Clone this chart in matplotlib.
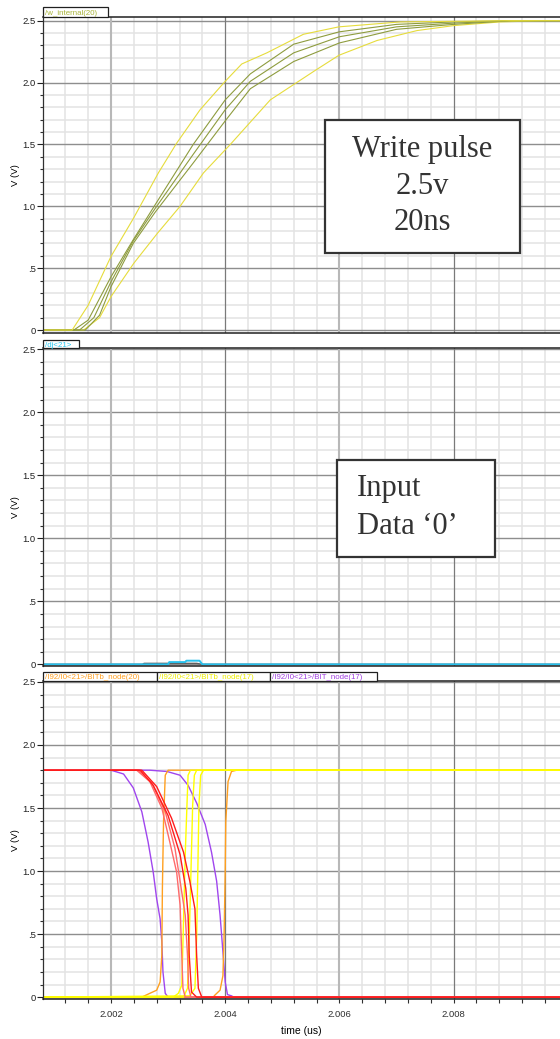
import matplotlib
matplotlib.use('Agg')
import matplotlib.pyplot as plt
from matplotlib.patches import Rectangle
from matplotlib.ticker import MultipleLocator, FixedLocator, FuncFormatter

# --- datos de la simulacion (tiempo en us, tension en V) ---

# panel 1: /w_internal(20)
t_w1 = [2.0008, 2.00132, 2.0016, 2.002, 2.00239, 2.00283, 2.00315, 2.00356, 2.004, 2.00429, 2.00473, 2.00537, 2.00599, 2.00707, 2.009, 2.0099]
v_w1 = [0, 0, 0.2, 0.595, 0.9, 1.27, 1.51, 1.78, 2.01, 2.15, 2.24, 2.39, 2.45, 2.49, 2.5, 2.5]
t_w2 = [2.0008, 2.00135, 2.0016, 2.002, 2.00239, 2.00277, 2.00344, 2.004, 2.00444, 2.0052, 2.006, 2.007, 2.008, 2.009, 2.0099]
v_w2 = [0, 0, 0.08, 0.43, 0.73, 1.01, 1.5, 1.86, 2.07, 2.31, 2.41, 2.47, 2.49, 2.5, 2.5]
t_w3 = [2.0008, 2.00145, 2.0017, 2.002, 2.00239, 2.00277, 2.00344, 2.004, 2.00444, 2.0052, 2.006, 2.007, 2.008, 2.009, 2.0099]
v_w3 = [0, 0, 0.1, 0.39, 0.72, 0.98, 1.42, 1.78, 2.01, 2.24, 2.37, 2.45, 2.48, 2.5, 2.5]
t_w4 = [2.0008, 2.00155, 2.0018, 2.002, 2.00239, 2.00277, 2.00344, 2.004, 2.00444, 2.0052, 2.006, 2.007, 2.008, 2.009, 2.0099]
v_w4 = [0, 0, 0.12, 0.35, 0.70, 0.95, 1.35, 1.69, 1.95, 2.17, 2.32, 2.43, 2.47, 2.5, 2.5]
t_w5 = [2.0008, 2.00152, 2.0018, 2.002, 2.0024, 2.00281, 2.00321, 2.00362, 2.00409, 2.00479, 2.00555, 2.00599, 2.00666, 2.00736, 2.008, 2.00882, 2.0096, 2.0099]
v_w5 = [0, 0, 0.1, 0.27, 0.54, 0.78, 1.0, 1.27, 1.5, 1.86, 2.09, 2.22, 2.34, 2.42, 2.46, 2.49, 2.5, 2.5]

# panel 2: /dj<21>
t_dj = [2.0008, 2.003, 2.00302, 2.0033, 2.00332, 2.00355, 2.0036, 2.0099]
v_dj = [0, 0, 0.018, 0.018, 0.029, 0.029, 0, 0]
t_djb = [2.0008, 2.00255, 2.00258, 2.0035, 2.0036, 2.0099]
v_djb = [0, 0, 0.008, 0.008, 0, 0]

# panel 3: nodos BIT / BITb
t_p1 = [2.0008, 2.002, 2.00222, 2.00239, 2.00254, 2.00265, 2.00274, 2.0028, 2.00286, 2.00289, 2.00291, 2.00295, 2.003, 2.0099]
v_p1 = [1.8, 1.8, 1.77, 1.66, 1.47, 1.23, 0.99, 0.78, 0.62, 0.44, 0.2, 0.03, 0, 0]
t_p2 = [2.0008, 2.00268, 2.00298, 2.00321, 2.00335, 2.0035, 2.00365, 2.00376, 2.00385, 2.00391, 2.00396, 2.004, 2.00404, 2.00411, 2.00415, 2.0099]
v_p2 = [1.8, 1.8, 1.79, 1.76, 1.68, 1.54, 1.37, 1.15, 0.92, 0.65, 0.36, 0.12, 0.02, 0.01, 0, 0]

t_r1 = [2.0008, 2.00245, 2.00268, 2.00289, 2.00303, 2.00315, 2.00321, 2.00324, 2.00326, 2.0033, 2.0099]
v_r1 = [1.8, 1.8, 1.71, 1.50, 1.23, 0.99, 0.73, 0.33, 0.07, 0, 0]
t_r2 = [2.0008, 2.00248, 2.00271, 2.00295, 2.00312, 2.00321, 2.0033, 2.00334, 2.00336, 2.0034, 2.0099]
v_r2 = [1.8, 1.8, 1.70, 1.47, 1.18, 0.92, 0.65, 0.33, 0.07, 0, 0]
t_r3 = [2.0008, 2.00251, 2.00274, 2.003, 2.00321, 2.00331, 2.00335, 2.00337, 2.00341, 2.0035, 2.0099]
v_r3 = [1.8, 1.8, 1.68, 1.44, 1.13, 0.86, 0.65, 0.33, 0.04, 0, 0]
t_r4 = [2.0008, 2.00254, 2.0028, 2.00306, 2.00327, 2.00338, 2.00347, 2.0035, 2.00353, 2.00359, 2.0099]
v_r4 = [1.8, 1.8, 1.67, 1.42, 1.15, 0.92, 0.70, 0.33, 0.07, 0, 0]

t_o1 = [2.0008, 2.00254, 2.00268, 2.0028, 2.00286, 2.00289, 2.0029, 2.00292, 2.00295, 2.003, 2.0099]
v_o1 = [0, 0, 0.03, 0.055, 0.12, 0.33, 0.86, 1.39, 1.76, 1.8, 1.8]
t_o2 = [2.0008, 2.00379, 2.00382, 2.00391, 2.00396, 2.00398, 2.004, 2.00401, 2.00405, 2.00411, 2.0042, 2.0099]
v_o2 = [0, 0, 0.016, 0.055, 0.17, 0.47, 0.99, 1.39, 1.71, 1.79, 1.8, 1.8]

t_y1 = [2.0008, 2.00309, 2.00318, 2.00324, 2.00327, 2.0033, 2.00333, 2.00335, 2.00339, 2.0099]
v_y1 = [0, 0, 0.03, 0.095, 0.6, 1.13, 1.52, 1.76, 1.8, 1.8]
t_y2 = [2.0008, 2.00327, 2.00334, 2.00337, 2.0034, 2.00343, 2.00346, 2.0035, 2.0099]
v_y2 = [0, 0, 0.07, 0.47, 0.99, 1.52, 1.76, 1.8, 1.8]
t_y3 = [2.0008, 2.00338, 2.00347, 2.0035, 2.00352, 2.00354, 2.00357, 2.00362, 2.0099]
v_y3 = [0, 0.01, 0.07, 0.47, 0.99, 1.52, 1.76, 1.8, 1.8]

x_ticks = [2.002, 2.004, 2.006, 2.008]
y_ticks = [0, 0.5, 1.0, 1.5, 2.0, 2.5]

W, H = 560, 1039
X0, X1 = 2.000804, 2.009863
LEFT = 42.7

plt.rcParams['font.family'] = ['Liberation Sans', 'DejaVu Sans']

fig = plt.figure(figsize=(W / 100, H / 100), dpi=100)


def fx(px):
    return px / W


def fy(py):
    return 1 - py / H


def etiqueta_y(v, pos):
    if v == 0:
        return '0'
    if v == 0.5:
        return '.5'
    return f'{v:.1f}'


def crear_panel(top_px, bot_px, ylo, yhi, con_eje_x=False):
    ax = fig.add_axes([fx(LEFT), fy(bot_px), 1 - fx(LEFT), (bot_px - top_px) / H])
    ax.set_xlim(X0, X1)
    ax.set_ylim(ylo, yhi)
    ax.set_axisbelow(True)

    ax.xaxis.set_major_locator(FixedLocator(x_ticks))
    ax.xaxis.set_minor_locator(MultipleLocator(0.0004))
    ax.yaxis.set_major_locator(FixedLocator(y_ticks))
    ax.yaxis.set_minor_locator(MultipleLocator(0.1))
    ax.yaxis.set_major_formatter(FuncFormatter(etiqueta_y))

    # cuadricula fina
    ax.grid(which='minor', color='#e3e3e3', linewidth=1.1)
    # cuadricula gruesa horizontal
    ax.grid(which='major', axis='y', color='#8e8e8e', linewidth=1.0)
    # cuadricula gruesa vertical, alternando tono
    for i, xt in enumerate(x_ticks):
        if i % 2 == 0:
            ax.axvline(xt, color='#b8b8b8', linewidth=1.5, zorder=0.6)
        else:
            ax.axvline(xt, color='#7a7a7a', linewidth=0.9, zorder=0.6)

    ax.spines['right'].set_visible(False)
    ax.spines['top'].set_color('#202020')
    ax.spines['top'].set_linewidth(1.1)
    ax.spines['left'].set_color('#303030')
    ax.spines['left'].set_linewidth(0.9)
    ax.spines['bottom'].set_color('#202020')
    ax.spines['bottom'].set_linewidth(1.1)

    ax.tick_params(axis='y', which='major', direction='out', length=4, width=0.8,
                   labelsize=6.8, pad=1, colors='#202020')
    ax.tick_params(axis='y', which='minor', direction='out', length=2.2, width=0.8, colors='#303030')
    if con_eje_x:
        ax.tick_params(axis='x', which='both', direction='out', length=3, width=0.8,
                       labelsize=6.8, pad=5, colors='#303030')
        ax.set_xlabel('time (us)', fontsize=7.5, labelpad=5)
    else:
        ax.tick_params(axis='x', which='both', bottom=False, labelbottom=False)
    ax.set_ylabel('V (V)', fontsize=6.8, labelpad=2)
    return ax


def pestanas(top_px, bot_px, bordes, textos, colores):
    # pestañas con el nombre de cada senal, encima del panel
    for i, (txt, col) in enumerate(zip(textos, colores)):
        x_a, x_b = bordes[i], bordes[i + 1]
        rect = Rectangle((fx(x_a), fy(bot_px)), fx(x_b - x_a), (bot_px - top_px) / H,
                         transform=fig.transFigure, facecolor='white', edgecolor='#202020',
                         linewidth=0.9, clip_on=False, zorder=5)
        fig.add_artist(rect)
        fig.text(fx(x_a + 2.5), fy(bot_px - 1.6), txt, color=col, fontsize=5.7,
                 ha='left', va='baseline', zorder=6)


# ---- panel superior ----
ax1 = crear_panel(16.7, 333, -0.024, 2.532)
amarillo = '#e6dc3c'
oliva = '#8e9c3e'
ax1.plot(t_w5, v_w5, color=amarillo, lw=0.8)
ax1.plot(t_w4, v_w4, color=oliva, lw=0.8)
ax1.plot(t_w3, v_w3, color=oliva, lw=0.8)
ax1.plot(t_w2, v_w2, color=oliva, lw=0.8)
ax1.plot(t_w1, v_w1, color=amarillo, lw=0.8)
pestanas(7.0, 16.7, [LEFT, 108.3], ['/w_internal(20)'], ['#a9b53a'])

# ---- panel central ----
ax2 = crear_panel(348.3, 666, -0.013, 2.506)
ax2.plot(t_djb, v_djb, color='#606060', lw=1.0)
ax2.plot(t_dj, v_dj, color='#28c0ec', lw=1.4)
pestanas(339.5, 348.3, [LEFT, 78.7], ['/dj<21>'], ['#28c8f0'])

# ---- panel inferior ----
ax3 = crear_panel(680.7, 998.5, -0.011, 2.51, con_eje_x=True)
morado = '#a046ee'
naranja = '#ffa020'
amarillo_b = '#ffff00'
rojo = '#ff1c1c'
salmon = '#ff6a6a'
ax3.plot(t_p1, v_p1, color=morado, lw=1.0)
ax3.plot(t_p2, v_p2, color=morado, lw=1.0)
ax3.plot(t_o1, v_o1, color=naranja, lw=1.0)
ax3.plot(t_o2, v_o2, color=naranja, lw=1.0)
ax3.plot(t_y1, v_y1, color=amarillo_b, lw=1.0)
ax3.plot(t_y2, v_y2, color=amarillo_b, lw=1.0)
ax3.plot(t_y3, v_y3, color=amarillo_b, lw=1.0)
ax3.plot(t_r1, v_r1, color=salmon, lw=1.0)
ax3.plot(t_r2, v_r2, color=salmon, lw=1.0)
ax3.plot(t_r3, v_r3, color=rojo, lw=1.0)
ax3.plot(t_r4, v_r4, color=rojo, lw=1.0)
pestanas(672.0, 680.7, [LEFT, 156.7, 270, 376.7],
         ['/I92/I0<21>/BITb_node(20)', '/I92/I0<21>/BITb_node(17)', '/I92/I0<21>/BIT_node(17)'],
         [naranja, '#eeee00', '#a040e0'])

# ---- cuadros de texto ----
serif = ['Liberation Serif', 'DejaVu Serif']
caja1 = Rectangle((fx(325), fy(253)), fx(520 - 325), (253 - 120) / H, transform=fig.transFigure,
                  facecolor='white', edgecolor='#333333', linewidth=1.6, zorder=8)
fig.add_artist(caja1)
for txt, yy in zip(['Write pulse', '2.5v', '20ns'], [150, 187, 223]):
    fig.text(fx(422), fy(yy), txt, family=serif, fontsize=22, color='#333333',
             ha='center', va='center', zorder=9)

caja2 = Rectangle((fx(337), fy(557)), fx(495 - 337), (557 - 460) / H, transform=fig.transFigure,
                  facecolor='white', edgecolor='#333333', linewidth=1.6, zorder=8)
fig.add_artist(caja2)
for txt, yy in zip(['Input', 'Data \u20180\u2019'], [488, 527]):
    fig.text(fx(357), fy(yy), txt, family=serif, fontsize=22, color='#333333',
             ha='left', va='center', zorder=9)

fig.savefig('out.png', dpi=100)
